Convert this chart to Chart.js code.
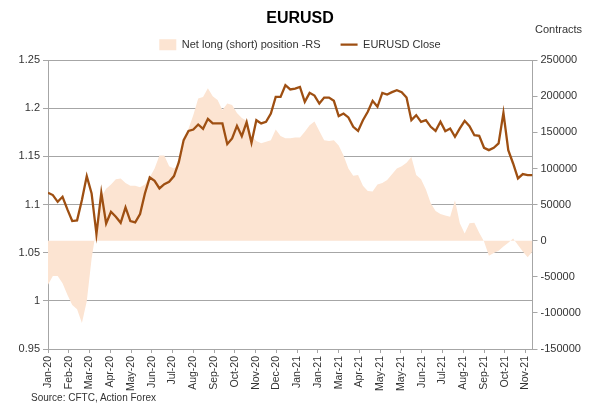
<!DOCTYPE html>
<html>
<head>
<meta charset="utf-8">
<script src="https://cdn.jsdelivr.net/npm/chart.js@4.4.1/dist/chart.umd.min.js"></script>
<style>
  body { margin: 0; background: #fff; }
  #wrap { position: relative; width: 600px; height: 412px; font-family: "Liberation Sans", Arial, sans-serif; color: #333; }
  #unit { position: absolute; left: 535px; top: 23px; font-size: 11px; }
  #source { position: absolute; left: 31px; top: 392px; font-size: 10px; }
</style>
</head>
<body>
<div id="wrap">
  <canvas id="myChart" width="600" height="412"></canvas>
  <div id="unit">Contracts</div>
  <div id="source">Source: CFTC, Action Forex</div>
</div>
<script>
// weekly COT data, first week 7 Jan 2020
const eurusdClose = [
  1.1123, 1.1099, 1.1029, 1.1081, 1.0950, 1.0829, 1.0836, 1.1047, 1.1296, 1.1116,
  1.0694, 1.1123, 1.0804, 1.0926, 1.0874, 1.0811, 1.0971, 1.0829, 1.0815, 1.0901,
  1.1116, 1.1282, 1.1247, 1.1168, 1.1213, 1.1237, 1.1296, 1.1440, 1.1670, 1.1766,
  1.1780, 1.1832, 1.1787, 1.1891, 1.1843, 1.1843, 1.1843, 1.1628, 1.1687, 1.1818,
  1.1711, 1.1856, 1.1642, 1.1877, 1.1843, 1.1860, 1.1946, 1.2119, 1.2119, 1.2240,
  1.2196, 1.2205, 1.2223, 1.2067, 1.2161, 1.2133, 1.2050, 1.2112, 1.2112, 1.2078,
  1.1919, 1.1946, 1.1905, 1.1808, 1.1766, 1.1877, 1.1964, 1.2078, 1.2016, 1.2161,
  1.2144, 1.2168, 1.2189, 1.2168, 1.2112, 1.1877, 1.1929, 1.1860, 1.1877, 1.1808,
  1.1766, 1.1860, 1.1763, 1.1791, 1.1704, 1.1791, 1.1870, 1.1815, 1.1721, 1.1715,
  1.1590, 1.1566, 1.1590, 1.1635, 1.1953, 1.1566, 1.1427, 1.1272, 1.1317, 1.1306,
  1.1306
];

const netPosition = [
  -61000, -49000, -49000, -59000, -75000, -89000, -95000, -114000, -84000, -25000,
  18000, 61000, 72000, 78000, 85000, 86000, 80000, 76000, 76000, 74000,
  78000, 88000, 100000, 118000, 118000, 103000, 100000, 106000, 135000, 155000,
  174000, 197000, 199000, 211000, 200000, 195000, 181000, 190000, 188000, 177000,
  170000, 166000, 145000, 138000, 135000, 137000, 139000, 154000, 145000, 142000,
  142000, 143000, 143000, 151000, 160000, 165000, 152000, 139000, 138000, 139000,
  132000, 118000, 100000, 90000, 91000, 76000, 69000, 68000, 78000, 80000,
  84000, 92000, 100000, 103000, 108000, 116000, 91000, 85000, 71000, 52000,
  41000, 37000, 35000, 33000, 56000, 24000, 10000, 24000, 25000, 11000,
  -1000, -21000, -17000, -14000, -8000, -3000, 3000, -6000, -15000, -23000,
  -15000
];

// x axis labels, one every 30 days from the first week
const xTickLabels = [
  "Jan-20", "Feb-20", "Mar-20", "Apr-20", "May-20", "Jun-20", "Jul-20", "Aug-20",
  "Sep-20", "Oct-20", "Nov-20", "Dec-20", "Jan-21", "Jan-21", "Mar-21", "Apr-21",
  "May-21", "May-21", "Jun-21", "Jul-21", "Aug-21", "Sep-21", "Oct-21", "Nov-21"
];
const leftTicks = [0.95, 1, 1.05, 1.1, 1.15, 1.2, 1.25];
const rightTicks = [-150000, -100000, -50000, 0, 50000, 100000, 150000, 200000, 250000];

const gridColor = "#A6A6A6";

// dia desde la primera semana
function weekPoints(values) {
  return values.map((v, i) => ({ x: i * 7, y: v }));
}

Chart.defaults.font.family = "'Liberation Sans', Arial, sans-serif";
Chart.defaults.font.size = 11;
Chart.defaults.color = "#333";

const ctx = document.getElementById("myChart").getContext("2d");
const myChart = new Chart(ctx, {
  type: "line",
  data: {
    datasets: [
      {
        label: "Net long (short) position -RS",
        data: weekPoints(netPosition),
        yAxisID: "y1",
        fill: "origin",
        backgroundColor: "#FCE4D2",
        borderColor: "#FCE4D2",
        borderWidth: 0,
        pointRadius: 0,
        pointStyle: "rect",
        tension: 0,
        order: 1,
      },
      {
        label: "EURUSD Close",
        data: weekPoints(eurusdClose),
        yAxisID: "y",
        fill: false,
        borderColor: "#9E4F12",
        backgroundColor: "#9E4F12",
        borderWidth: 2.3,
        pointRadius: 0,
        pointStyle: "line",
        tension: 0,
        order: 0,
      },
    ],
  },
  options: {
    responsive: false,
    animation: false,
    layout: { padding: 0 },
    plugins: {
      title: {
        display: true,
        text: "EURUSD",
        color: "#000",
        font: { size: 16, weight: "bold" },
        padding: { top: 9, bottom: -9 },
      },
      legend: {
        display: true,
        labels: {
          usePointStyle: true,
          pointStyleWidth: 17,
          boxHeight: 11,
          padding: 20,
          color: "#333",
          font: { size: 11 },
          sort: (a, b) => a.datasetIndex - b.datasetIndex,
        },
      },
      tooltip: { enabled: false },
    },
    scales: {
      x: {
        type: "linear",
        min: 0,
        max: 700,
        afterBuildTicks: (scale) => {
          scale.ticks = xTickLabels.map((t, i) => ({ value: i * 30 }));
        },
        ticks: {
          autoSkip: false,
          minRotation: 90,
          maxRotation: 90,
          padding: 3,
          font: { size: 10.5 },
          callback: (v, i) => xTickLabels[i],
        },
        grid: { drawOnChartArea: false, drawTicks: true, tickLength: 4, color: gridColor },
        border: { color: gridColor },
        afterFit: (scale) => { scale.height = 63; },
      },
      y: {
        position: "left",
        min: 0.95,
        max: 1.25,
        afterBuildTicks: (scale) => {
          scale.ticks = leftTicks.map((v) => ({ value: v }));
        },
        ticks: { padding: 3, callback: (v) => String(v) },
        grid: { color: gridColor, tickLength: 5 },
        border: { color: gridColor },
        afterFit: (scale) => { scale.width = 48; },
      },
      y1: {
        position: "right",
        min: -150000,
        max: 250000,
        afterBuildTicks: (scale) => {
          scale.ticks = rightTicks.map((v) => ({ value: v }));
        },
        ticks: { padding: 3, callback: (v) => String(v) },
        grid: { drawOnChartArea: false, tickLength: 5, color: gridColor },
        border: { color: gridColor },
        afterFit: (scale) => { scale.width = 67.5; },
      },
    },
  },
});
</script>
</body>
</html>
